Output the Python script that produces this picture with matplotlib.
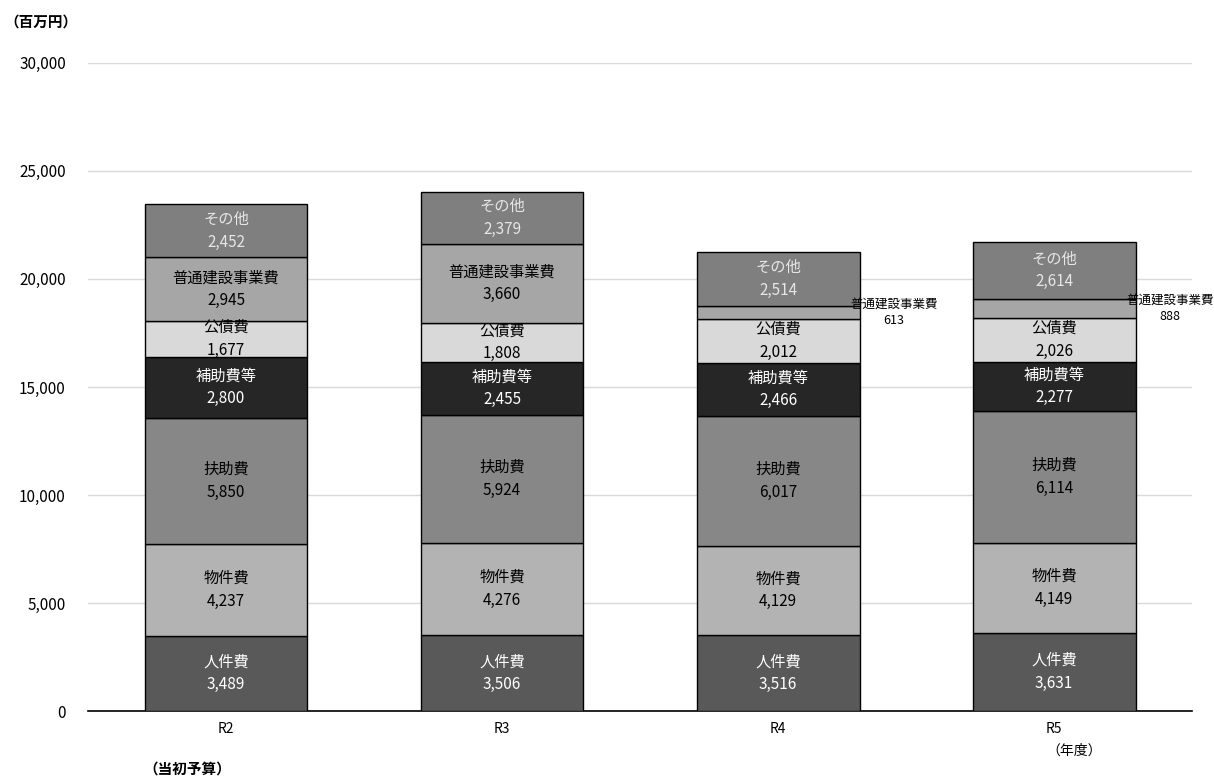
import matplotlib
matplotlib.use('Agg')
import matplotlib.pyplot as plt
import numpy as np

plt.rcParams['font.family'] = ['Noto Sans CJK JP', 'DejaVu Sans']

# データ（百万円）
years = ['R2', 'R3', 'R4', 'R5']
items = ['人件費', '物件費', '扶助費', '補助費等', '公債費', '普通建設事業費', 'その他']
jinken = [3489, 3506, 3516, 3631]
bukken = [4237, 4276, 4129, 4149]
fujo = [5850, 5924, 6017, 6114]
hojo = [2800, 2455, 2466, 2277]
kosai = [1677, 1808, 2012, 2026]
futsu = [2945, 3660, 613, 888]
sonota = [2452, 2379, 2514, 2614]
series = [jinken, bukken, fujo, hojo, kosai, futsu, sonota]

colors = ['#595959', '#b3b3b3', '#878787', '#262626', '#d9d9d9', '#a6a6a6', '#7f7f7f']
txt_colors = ['white', 'black', 'black', 'white', 'black', 'black', '#e6e6e6']

fig = plt.figure(figsize=(12.14, 7.78), dpi=100)
ax = fig.add_axes([0.0725, 0.0861, 0.9095, 0.833])

x = np.arange(len(years))
bottom = np.zeros(len(years))
for k, vals in enumerate(series):
    vals = np.array(vals)
    ax.bar(x, vals, 0.59, bottom=bottom, color=colors[k],
           edgecolor='black', linewidth=1.0, zorder=3)
    for i in range(len(years)):
        mid = bottom[i] + vals[i] / 2
        label = f'{items[k]}\n{vals[i]:,}'
        if vals[i] < 1000:
            # 小さい区分は棒の外側に表示
            ax.text(x[i] + 0.42, mid, label, ha='center', va='center',
                    fontsize=9, color='black', linespacing=1.3, zorder=4)
        else:
            ax.text(x[i], mid, label, ha='center', va='center',
                    fontsize=11, color=txt_colors[k], linespacing=1.45, zorder=4)
    bottom += vals

ax.set_xlim(-0.5, 3.5)
ax.set_ylim(0, 30000)
ax.set_yticks(np.arange(0, 30001, 5000))
ax.set_yticklabels([f'{v:,}' for v in range(0, 30001, 5000)], fontsize=11)
ax.set_xticks(x)
ax.set_xticklabels(years, fontsize=10)
ax.tick_params(axis='both', length=0, pad=8)
ax.tick_params(axis='y', pad=16)
ax.yaxis.grid(True, color='#d9d9d9', linewidth=1, zorder=0)
ax.set_axisbelow(True)
for s in ['left', 'right', 'top']:
    ax.spines[s].set_visible(False)
ax.spines['bottom'].set_linewidth(1.2)

fig.text(0.004, 0.972, '（百万円）', fontsize=10.5, fontweight='bold', va='center')
fig.text(0.118, 0.012, '（当初予算）', fontsize=10.5, fontweight='bold', va='center')
fig.text(0.862, 0.035, '（年度）', fontsize=10, va='center')

plt.savefig('out.png', dpi=100)
